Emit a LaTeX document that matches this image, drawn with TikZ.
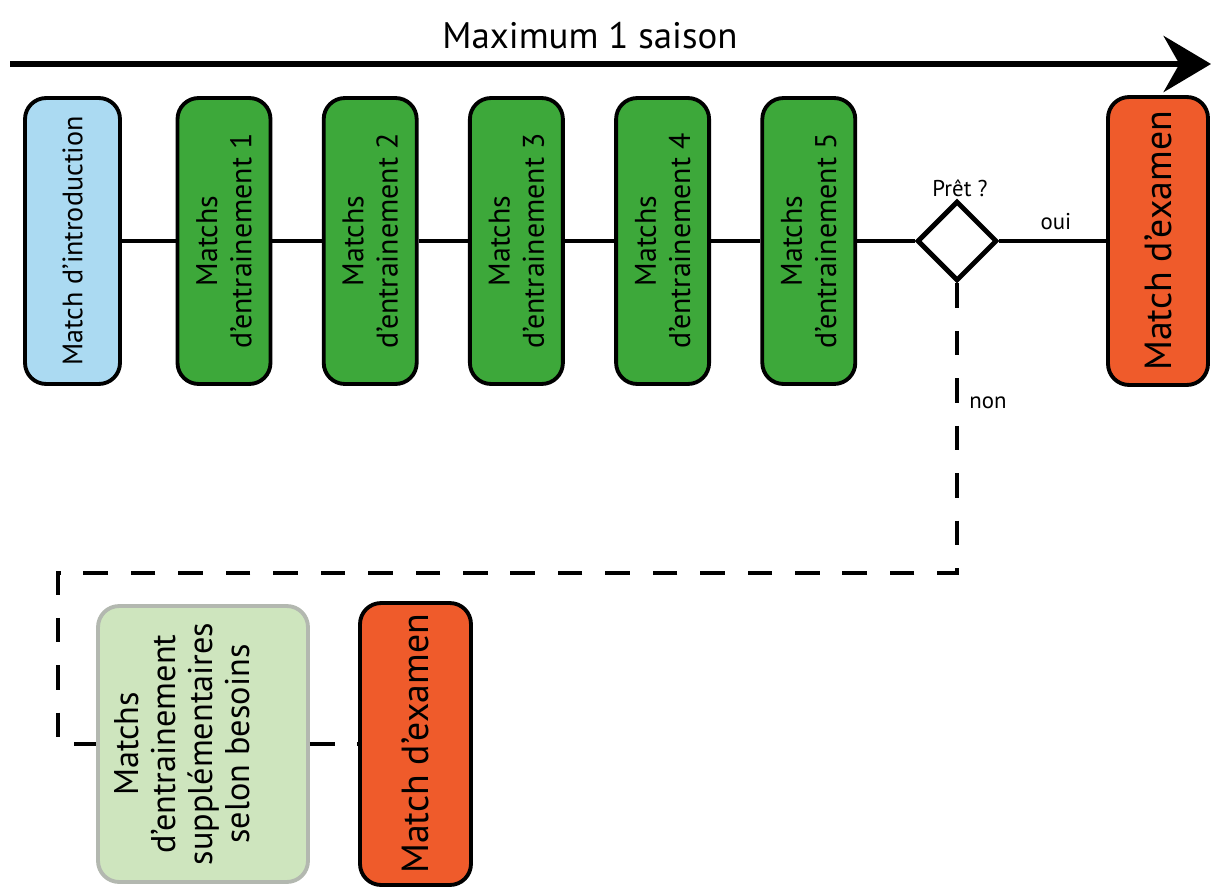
\documentclass[tikz,border=0pt]{standalone}
\usepackage{fontspec}
\setmainfont{PT Sans}
\usetikzlibrary{arrows.meta,shapes.geometric}
\definecolor{bleuintro}{HTML}{ABDAF2}
\definecolor{vertmatch}{HTML}{3DA83A}
\definecolor{orangeexam}{HTML}{EF5B2B}
\definecolor{vertpale}{HTML}{CEE5BE}
\definecolor{grisbord}{HTML}{B3B8B0}
\tikzset{
  etape/.style={draw=black, line width=2.2pt, rounded corners=12pt, rotate=90,
    align=center, inner sep=0pt, minimum width=5.72cm, minimum height=1.86cm,
    font=\fontsize{17}{19.5}\selectfont},
  lien/.style={line width=2.2pt},
  pointille/.style={line width=2.6pt, dash pattern=on 14pt off 13pt},
  etiquette/.style={font=\fontsize{13}{15}\selectfont, inner sep=0pt}
}
\begin{document}
\begin{tikzpicture}[x=0.02cm,y=-0.02cm]
\useasboundingbox (0,0) rectangle (1211,889);
\def\dx{146.2}
\node[font=\fontsize{21}{24}\selectfont] (titre) at (590,36) {Maximum 1 saison};
\coordinate (axedebut) at (10,64);
\coordinate (axefin) at (1211,64);
\draw[line width=2.9pt, -{Stealth[length=27pt,width=32pt,inset=9pt]}] (axedebut) -- (axefin);
\node[etape, fill=bleuintro, minimum height=1.9cm, font=\fontsize{16}{18}\selectfont] (intro) at (72.5,241) {Match d’introduction};
\foreach \i in {1,...,5}
  \node[etape, fill=vertmatch] (E\i) at (224+\dx*\i-\dx,241) {Matchs\\d’entrainement \i};
\node[diamond, draw=black, line width=2.8pt, minimum size=1.6cm, inner sep=0pt] (pret) at (957,241) {};
\node[etape, fill=orangeexam, minimum height=2cm, minimum width=5.76cm, font=\fontsize{21.5}{24}\selectfont] (exam) at (1158,241) {Match d’examen};
\node[etiquette] (qpret) at (960,188) {Prêt ?};
\node[etiquette] (oui) at (1056,222) {oui};
\node[etiquette] (non) at (988,403) {non};
\node[etape, draw=grisbord, fill=vertpale, minimum height=4.2cm, minimum width=5.52cm, font=\fontsize{19.5}{21}\selectfont] (extra) at (203,744)
  {\raisebox{9.5pt}[\height][\depth]{\begin{tabular}{@{}c@{}}Matchs\\d’entrainement\\supplémentaires\\selon besoins\end{tabular}}};
\node[etape, fill=orangeexam, minimum height=2.22cm, minimum width=5.64cm, font=\fontsize{21.5}{24}\selectfont] (exam2) at (415.5,744) {Match d’examen};
\draw[lien] (intro.south) -- (E1.north);
\draw[lien] (E1.south) -- (E2.north);
\draw[lien] (E2.south) -- (E3.north);
\draw[lien] (E3.south) -- (E4.north);
\draw[lien] (E4.south) -- (E5.north);
\draw[lien] (E5.south) -- (pret.west);
\draw[lien] (pret.east) -- (exam.north);
\coordinate (coin1) at (957,573);
\coordinate (coin2) at (58,573);
\draw[pointille] (pret.south) -- (coin1) -- (coin2) |- (extra.north);
\draw[pointille] (extra.south) -- (exam2.north);
\end{tikzpicture}
\end{document}
